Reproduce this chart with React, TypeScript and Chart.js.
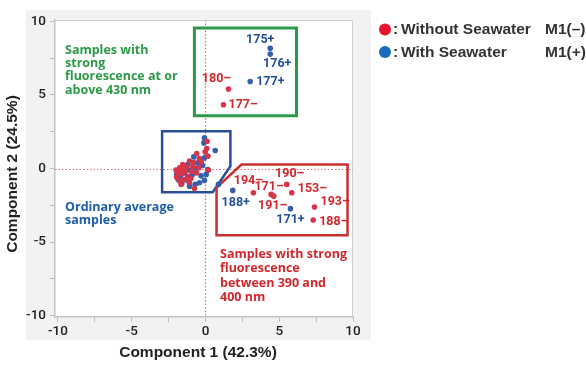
import React, { useEffect, useRef } from "react";
import { Chart, registerables } from "chart.js";

Chart.register(...registerables);

// ---- data ----
const seriesNames = ["Without Seawater", "With Seawater"];
const seriesCodes = ["M1(\u2013)", "M1(+)"];

const redX = [1.56, 1.22, 3.25, 4.45, 4.63, 5.51, 5.85, 7.39, 7.30,
  0.11, 0.09, -0.02, 0.16, -0.59, -0.41, -0.29, -1.08, -1.54,
  -1.75, -1.9, -1.95, -1.6, -1.35, -1.2, -0.95, -0.85, -1.45, -1.75, -1.65, -0.75,
  -1.0, -0.6, -1.3, -2.0, 0.2, -0.45, -1.1, -1.55, -0.8];
const redY = [5.40, 4.34, -1.65, -1.76, -1.88, -1.08, -1.65, -2.62, -3.50,
  1.85, 1.36, 1.13, 0.84, 1.02, 0.68, 0.45, 0.5, 0.27,
  0.05, -0.25, -0.6, -0.35, -0.15, -0.55, -0.2, 0.15, -0.75, -0.85, -1.08, -1.36,
  -0.7, -0.3, 0.1, -0.1, -0.1, 0.05, -0.95, -0.05, 0.4];
const redPointLabels = ["180\u2013", "177\u2013", "194\u2013", "171\u2013", "191\u2013", "190\u2013", "153\u2013", "193\u2013", "188\u2013"];

const blueX = [4.39, 4.39, 3.03, 1.85, 5.76, 0.88,
  -0.07, -0.11, 0.66, -0.07, -0.79, -0.52, -1.2, -1.08, -0.7, -0.41, -0.07, 0.16,
  -1.4, -1.7, -1.85, -1.25, -0.9, -0.65, -1.5, -1.95, -1.1, -0.3, -1.6, -0.2, 0.05];
const blueY = [8.18, 7.78, 5.92, -1.49, -2.73, -1.08,
  2.08, 1.74, 1.22, 0.72, 0.79, 0.38, 0.27, -1.2, -1.08, -0.97, -0.81, -0.07,
  -0.3, -0.5, -0.75, -0.8, -0.45, 0.0, 0.1, -0.4, -0.1, -0.5, -1.0, 0.2, -0.4];
const bluePointLabels = ["175+", "176+", "177+", "188+", "171+"];

const xTickValues = [-10, -7.5, -5, -2.5, 0, 2.5, 5, 7.5, 10];
const yTickValues = [-10, -7.5, -5, -2.5, 0, 2.5, 5, 7.5, 10];

// label placement (pixel offsets from the labelled point)
const redLabelPlace = [
  { dx: -12, dy: -10, align: "center" },
  { dx: 5, dy: 0, align: "left" },
  { dx: -5, dy: -12, align: "center" },
  { dx: -2, dy: -8, align: "center" },
  { dx: -1, dy: 10, align: "center" },
  { dx: 3, dy: -11, align: "center" },
  { dx: 6, dy: -4, align: "left" },
  { dx: 6, dy: -5, align: "left" },
  { dx: 6, dy: 2, align: "left" },
];
const blueLabelPlace = [
  { dx: -10, dy: -8, align: "center" },
  { dx: 7, dy: 10, align: "center" },
  { dx: 6, dy: 0, align: "left" },
  { dx: 3, dy: 12, align: "center" },
  { dx: 0, dy: 11, align: "center" },
];

// region boxes in data units
const greenBox = [[-0.75, 9.56], [6.17, 9.56], [6.17, 3.59], [-0.75, 3.59]];
const blueBox = [[-2.94, 2.53], [1.69, 2.53], [1.69, 0.16], [0.49, -1.61], [-2.94, -1.61]];
const redBox = [[2.44, 0.27], [9.63, 0.27], [9.63, -4.54], [0.75, -4.54], [0.75, -1.29]];

const greenText = ["Samples with", "strong", "fluorescence at or", "above 430 nm"];
const blueText = ["Ordinary average", "samples"];
const redText = ["Samples with strong", "fluorescence", "between 390 and", "400 nm"];

const xTitle = "Component 1 (42.3%)";
const yTitle = "Component 2 (24.5%)";

const RED = "#d6364a";
const BLUE = "#355fab";
const LBL_RED = "#d2262f";
const LBL_BLUE = "#224f9c";
const GREEN = "#2b9a48";

const overlay = {
  id: "overlay",
  beforeDraw(chart: any) {
    const { ctx, chartArea: a } = chart;
    ctx.save();
    ctx.fillStyle = "#f2f2f2";
    ctx.fillRect(26, 10, 345, 330);
    ctx.fillStyle = "#ffffff";
    ctx.fillRect(a.left, a.top, a.right - a.left, a.bottom - a.top);
    ctx.strokeStyle = "#cfcfcf";
    ctx.lineWidth = 1;
    ctx.beginPath();
    ctx.moveTo(a.left, a.top + 0.5);
    ctx.lineTo(a.right - 0.5, a.top + 0.5);
    ctx.lineTo(a.right - 0.5, a.bottom);
    ctx.stroke();
    ctx.restore();
  },
  beforeDatasetsDraw(chart: any) {
    const { ctx, chartArea: a, scales } = chart;
    const xs = scales.x, ys = scales.y;
    ctx.save();
    ctx.strokeStyle = "#e06a72";
    ctx.lineWidth = 1.2;
    ctx.setLineDash([1.5, 2]);
    const x0 = Math.round(xs.getPixelForValue(0)) + 0.5;
    const y0 = Math.round(ys.getPixelForValue(0)) + 0.5;
    ctx.beginPath();
    ctx.moveTo(x0, a.top);
    ctx.lineTo(x0, a.bottom);
    ctx.moveTo(a.left, y0);
    ctx.lineTo(a.right, y0);
    ctx.stroke();
    ctx.setLineDash([]);
    const poly = (pts: number[][], color: string, w: number) => {
      ctx.strokeStyle = color;
      ctx.lineWidth = w;
      ctx.lineJoin = "miter";
      ctx.beginPath();
      pts.forEach((p, i) => {
        const px = xs.getPixelForValue(p[0]);
        const py = ys.getPixelForValue(p[1]);
        if (i === 0) ctx.moveTo(px, py); else ctx.lineTo(px, py);
      });
      ctx.closePath();
      ctx.stroke();
    };
    poly(greenBox, GREEN, 3);
    poly(blueBox, "#2a4f96", 2.5);
    poly(redBox, "#c9302e", 2.5);
    ctx.restore();
  },
  afterDatasetsDraw(chart: any) {
    const { ctx, scales } = chart;
    const xs = scales.x, ys = scales.y;
    ctx.save();
    ctx.font = "bold 12.5px Roboto";
    ctx.textBaseline = "middle";
    const drawLabels = (X: number[], Y: number[], texts: string[], place: any[], color: string) => {
      ctx.fillStyle = color;
      texts.forEach((t, i) => {
        const px = xs.getPixelForValue(X[i]);
        const py = ys.getPixelForValue(Y[i]);
        ctx.textAlign = place[i].align;
        ctx.fillText(t, px + place[i].dx, py + place[i].dy);
      });
    };
    drawLabels(redX, redY, redPointLabels, redLabelPlace, LBL_RED);
    drawLabels(blueX, blueY, bluePointLabels, blueLabelPlace, LBL_BLUE);

    ctx.font = "bold 12.5px 'Open Sans'";
    ctx.textAlign = "left";
    const block = (lines: string[], x: number, y: number, lh: number, color: string) => {
      ctx.fillStyle = color;
      lines.forEach((l, i) => ctx.fillText(l, x, y + i * lh));
    };
    block(greenText, 65, 50, 13.4, GREEN);
    block(blueText, 65, 207.5, 12.8, "#1f5ea8");
    block(redText, 220, 254, 14.5, "#d0282c");

    // legend
    const rows = [
      { y: 29.5, dot: "#e6142c" },
      { y: 52, dot: "#1a6cbf" },
    ];
    rows.forEach((r, i) => {
      ctx.fillStyle = r.dot;
      ctx.beginPath();
      ctx.arc(385, r.y, 6, 0, Math.PI * 2);
      ctx.fill();
      ctx.fillStyle = "#333333";
      ctx.font = "bold 15.5px 'Liberation Sans'";
      ctx.textAlign = "left";
      ctx.fillText(":", 393, r.y + 0.5);
      ctx.fillText(seriesNames[i], 401, r.y + 0.5);
      ctx.fillText(seriesCodes[i], 545, r.y + 0.5);
    });

    ctx.fillStyle = "#222222";
    ctx.font = "bold 15.5px 'Liberation Sans'";
    ctx.textAlign = "center";
    ctx.fillText(xTitle, 198, 353);
    ctx.translate(13, 174);
    ctx.rotate(-Math.PI / 2);
    ctx.fillText(yTitle, 0, 0);
    ctx.restore();
  },
};

export default function App() {
  const ref = useRef<HTMLCanvasElement | null>(null);
  useEffect(() => {
    if (!ref.current) return;
    const toPts = (X: number[], Y: number[]) => X.map((x, i) => ({ x, y: Y[i] }));
    const tickCb = (v: any) => (Number(v) % 5 === 0 ? String(v) : "");
    const chart = new Chart(ref.current, {
      type: "scatter",
      data: {
        datasets: [
          { label: seriesNames[0], data: toPts(redX, redY), backgroundColor: RED, pointRadius: 2.8, borderWidth: 0 },
          { label: seriesNames[1], data: toPts(blueX, blueY), backgroundColor: BLUE, pointRadius: 2.8, borderWidth: 0 },
        ],
      },
      options: {
        responsive: false,
        animation: false,
        devicePixelRatio: 1,
        layout: { padding: { left: 0, top: 20, right: 233, bottom: 0 } },
        plugins: { legend: { display: false }, tooltip: { enabled: false } },
        scales: {
          x: {
            type: "linear",
            min: -10.2,
            max: 10,
            afterBuildTicks: (s: any) => { s.ticks = xTickValues.map((v) => ({ value: v })); },
            afterFit: (s: any) => { s.height = 51; },
            ticks: { callback: tickCb, color: "#222", font: { family: "Roboto", size: 13.5, weight: "500" }, padding: 2, maxRotation: 0, autoSkip: false },
            grid: { drawOnChartArea: false, drawTicks: true, tickLength: 5, color: "#bdbdbd" },
            border: { color: "#c4c4c4", width: 1.5 },
          },
          y: {
            type: "linear",
            min: -10.1,
            max: 10.1,
            afterBuildTicks: (s: any) => { s.ticks = yTickValues.map((v) => ({ value: v })); },
            afterFit: (s: any) => { s.width = 55; },
            ticks: { callback: tickCb, color: "#222", font: { family: "Roboto", size: 13.5, weight: "500" }, padding: 4, autoSkip: false },
            grid: { drawOnChartArea: false, drawTicks: true, tickLength: 5, color: "#bdbdbd" },
            border: { color: "#c4c4c4", width: 1.5 },
          },
        },
      } as any,
      plugins: [overlay],
    });
    return () => chart.destroy();
  }, []);
  return (
    <div style={{ position: "absolute", left: 0, top: 0, width: 586, height: 368, background: "#fff" }}>
      <canvas ref={ref} width={586} height={368} />
    </div>
  );
}
